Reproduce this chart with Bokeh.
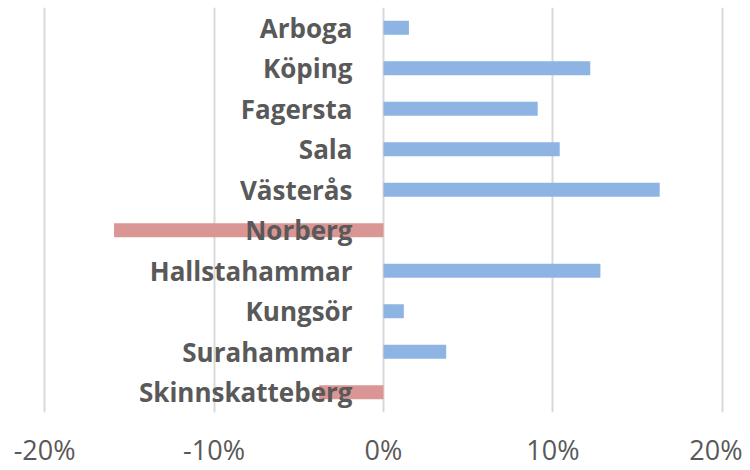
from bokeh.plotting import figure
from bokeh.models import FactorRange, Range1d, FixedTicker, NumeralTickFormatter, ColumnDataSource
from bokeh.core.properties import value
from bokeh.embed import file_html
from bokeh.resources import INLINE

cities = ["Arboga", "Köping", "Fagersta", "Sala", "Västerås", "Norberg",
          "Hallstahammar", "Kungsör", "Surahammar", "Skinnskatteberg"]
change = [0.015, 0.122, 0.091, 0.104, 0.163, -0.159, 0.128, 0.012, 0.037, -0.038]
tick_values = [-0.2, -0.1, 0.0, 0.1, 0.2]

POS = "#8EB4E3"
NEG = "#D99694"
colors = [POS if v >= 0 else NEG for v in change]

src = ColumnDataSource(dict(city=cities, val=change, color=colors,
                            zero=[0.0] * len(cities)))

p = figure(width=742, height=470, output_backend="svg", toolbar_location=None,
           y_range=FactorRange(factors=list(reversed(cities))),
           x_range=Range1d(-0.203, 0.203),
           min_border_left=39, min_border_right=15, min_border_top=7, min_border_bottom=0)

p.hbar(y="city", left="zero", right="val", height=0.345, fill_color="color",
       line_color=None, source=src)

p.text(x="zero", y="city", text="city", source=src, x_offset=-31,
       text_align="right", text_baseline="middle",
       text_font=value("Open Sans"), text_font_style="bold",
       text_font_size="26px", text_color="#595959")

p.yaxis.visible = False
p.ygrid.grid_line_color = None
p.xgrid.grid_line_color = "#D9D9D9"
p.xgrid.grid_line_width = 2
p.xaxis.ticker = FixedTicker(ticks=tick_values)
p.xaxis.formatter = NumeralTickFormatter(format="0%")
p.xaxis.axis_line_color = None
p.xaxis.major_tick_line_color = None
p.xaxis.minor_tick_line_color = None
p.xaxis.major_tick_out = 0
p.xaxis.major_tick_in = 0
p.xaxis.major_label_standoff = 18
p.xaxis.major_label_text_font = "Open Sans"
p.xaxis.major_label_text_font_size = "27px"
p.xaxis.major_label_text_color = "#595959"
p.outline_line_color = None

open("out.html", "w").write(file_html(p, INLINE))
